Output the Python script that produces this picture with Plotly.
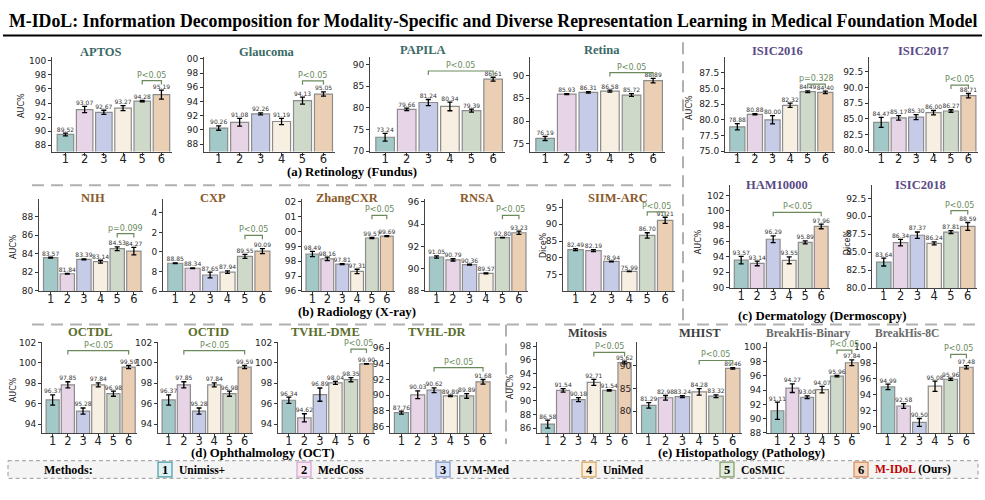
import plotly.graph_objects as go

W, H = 985, 500
def X(px): return px / W
def Y(py): return 1 - py / H

CATS = [1, 2, 3, 4, 5, 6]
METHODS = ["Unimiss+", "MedCoss", "LVM-Med", "UniMed", "CoSMIC", "M-IDoL"]

# ---------------- data (values, error half-widths) ----------------
APTOS_V = [89.52, 93.07, 92.67, 93.27, 94.28, 95.19]
APTOS_E = [0.2, 0.45, 0.3, 0.35, 0.1, 0.65]
GLAUCOMA_V = [90.26, 91.08, 92.26, 91.19, 94.13, 95.05]
GLAUCOMA_E = [0.3, 0.55, 0.15, 0.45, 0.5, 0.3]
PAPILA_V = [73.24, 79.66, 81.24, 80.34, 79.39, 86.61]
PAPILA_E = [0.9, 0.3, 0.7, 1.0, 0.35, 0.45]
RETINA_V = [76.19, 85.93, 86.31, 86.58, 85.72, 88.89]
RETINA_E = [0.45, 0.1, 0.15, 0.2, 0.3, 0.5]
ISIC2016_V = [78.88, 80.88, 80.00, 82.32, 84.49, 84.40]
ISIC2016_E = [0.5, 0.1, 0.65, 0.35, 0.15, 0.2]
ISIC2017_V = [84.47, 85.17, 85.30, 86.00, 86.27, 88.71]
ISIC2017_E = [0.8, 0.35, 0.4, 0.35, 0.2, 0.35]
NIH_V = [83.57, 81.84, 83.39, 83.14, 84.53, 84.27]
NIH_E = [0.05, 0.03, 0.05, 0.15, 0.2, 0.4]
CXP_V = [88.85, 88.34, 87.65, 87.94, 89.55, 90.09]
CXP_E = [0.03, 0.03, 0.3, 0.12, 0.2, 0.25]
ZHANG_V = [98.49, 98.16, 97.81, 97.31, 99.57, 99.69]
ZHANG_E = [0.18, 0.12, 0.03, 0.15, 0.04, 0.03]
RNSA_V = [91.05, 90.79, 90.36, 89.57, 92.80, 93.23]
RNSA_E = [0.1, 0.1, 0.05, 0.04, 0.02, 0.15]
SIIM_V = [82.49, 82.19, 78.94, 75.99, 86.70, 91.21]
SIIM_E = [0.3, 0.3, 0.1, 0.05, 0.8, 0.9]
HAM_V = [93.57, 93.14, 96.29, 93.55, 95.89, 97.96]
HAM_E = [0.5, 0.3, 0.45, 0.45, 0.2, 0.3]
ISIC2018_V = [83.64, 86.34, 87.37, 86.24, 87.81, 88.59]
ISIC2018_E = [0.55, 0.45, 0.45, 0.2, 0.2, 0.55]
OCTDL_V = [96.37, 97.85, 95.28, 97.84, 96.98, 99.59]
OCTDL_E = [0.5, 0.3, 0.3, 0.2, 0.25, 0.15]
OCTID_V = [96.37, 97.85, 95.28, 97.84, 96.98, 99.59]
OCTID_E = [0.5, 0.3, 0.3, 0.2, 0.25, 0.15]
DME_V = [96.34, 94.62, 96.89, 98.04, 98.35, 99.90]
DME_E = [0.3, 0.4, 0.65, 0.15, 0.2, 0.03]
DR_V = [87.76, 90.03, 90.62, 89.89, 89.89, 91.68]
DR_E = [0.2, 0.5, 0.3, 0.1, 0.3, 0.3]
MITOSIS_V = [86.58, 91.54, 90.18, 92.71, 91.54, 95.62]
MITOSIS_E = [0.6, 0.25, 0.3, 0.45, 0.1, 0.2]
MHIST_V = [81.29, 82.98, 83.24, 84.28, 83.32, 89.46]
MHIST_E = [0.6, 0.5, 0.2, 0.7, 0.3, 0.15]
BHB_V = [91.11, 94.27, 93.00, 94.07, 95.96, 97.84]
BHB_E = [1.2, 0.6, 0.2, 0.45, 0.1, 0.4]
BH8_V = [94.99, 92.58, 90.50, 95.08, 95.96, 97.48]
BH8_E = [0.35, 0.3, 0.5, 0.65, 0.15, 0.2]

def rng(a, b, step):
    out, v = [], a
    while v <= b + 1e-9:
        out.append(round(v, 2)); v += step
    return out

# ---------------- styles ----------------
BAR_COLORS = ["#a2c8c8", "#e7d4e6", "#c6cbe7", "#f7efe1", "#ced9ca", "#ebcfb5"]
BAR_EDGE = "#8c8c8c"
GRP_COLOR = {"ret": "#3b6a66", "der": "#5a4a86", "rad": "#8a5a2a",
             "oct": "#5b6e2c", "his": "#3d3d3d", "bh": "#6a6a6a"}
PCOL = "#6b8a5c"
SERIF = "Liberation Serif"
SANS = "DejaVu Sans"

panels = [
    dict(n="APTOS", v=APTOS_V, e=APTOS_E, g="ret", b=(52, 172, 53, 149.5), c=((100, 57), (88, 143)),
         t=rng(88, 100, 2), br=(5, 6, 97.2, "P<0.05"), tx=100, ty=48, yl=("AUC%", 22, 103)),
    dict(n="Glaucoma", v=GLAUCOMA_V, e=GLAUCOMA_E, g="ret", b=(204, 335, 53, 149.5), c=((100, 55), (88, 142)),
         t=rng(88, 100, 2), tt=["88", "90", "92", "94", "96", "98", "00"], br=(5, 6, 96.9, "P<0.05"), tx=267, ty=48),
    dict(n="PAPILA", v=PAPILA_V, e=PAPILA_E, g="ret", b=(370, 505, 53, 149.5), c=((90, 60.7), (70, 149.3)),
         t=rng(70, 90, 5), br=(3, 6, 88.5, "P<0.05"), tx=423, ty=46),
    dict(n="Retina", v=RETINA_V, e=RETINA_E, g="ret", b=(530, 665, 53, 149.5), c=((90, 72), (75, 141.7)),
         t=rng(75, 90, 5), br=(4, 6, 90.65, "P<0.05"), tx=602, ty=46),
    dict(n="ISIC2016", v=ISIC2016_V, e=ISIC2016_E, g="der", b=(725, 835, 53, 149.5), c=((87.5, 69.3), (75, 149)),
         t=rng(75, 87.5, 2.5), f1=True, br=(5, 6, 85.7, "p=0.328"), tx=777, ty=47, yl=("AUC%", 690, 105)),
    dict(n="ISIC2017", v=ISIC2017_V, e=ISIC2017_E, g="der", b=(869, 978, 53, 149.5), c=((92.5, 68.3), (80, 148.3)),
         t=rng(80, 92.5, 2.5), f1=True, br=(5, 6, 90.4, "P<0.05"), tx=923, ty=47),
    dict(n="NIH", v=NIH_V, e=NIH_E, g="rad", b=(39, 143, 198, 292), c=((88, 215.7), (80, 291.7)),
         t=rng(80, 88, 2), br=(5, 6, 86.15, "p=0.099"), tx=93, ty=197, yl=("AUC%", 13, 247)),
    dict(n="CXP", v=CXP_V, e=CXP_E, g="rad", b=(163, 272, 198, 292), c=((94, 212), (86, 292)),
         t=rng(86, 94, 2), tt=["6", "8", "0", "2", "4"], br=(5, 6, 91.7, "P<0.05"), tx=213, ty=197),
    dict(n="ZhangCXR", v=ZHANG_V, e=ZHANG_E, g="rad", b=(302, 395, 198, 292), c=((102, 201), (96, 291.7)),
         t=rng(96, 102, 1), tt=["96", "97", "98", "99", "00", "01", "02"], br=(5, 6, 101.1, "P<0.05"), tx=347, ty=197),
    dict(n="RNSA", v=RNSA_V, e=RNSA_E, g="rad", b=(425, 528, 198, 292), c=((96, 201), (88, 291.7)),
         t=rng(88, 96, 2), br=(5, 6, 94.8, "P<0.05"), tx=477, ty=197),
    dict(n="SIIM-ARC", v=SIIM_V, e=SIIM_E, g="rad", b=(563, 675, 198, 292), c=((95, 206.7), (70, 292.3)),
         t=rng(70, 95, 5), br=(5, 6, 93.7, "P<0.05"), tx=618, ty=197, yl=("Dice%", 543, 245)),
    dict(n="HAM10000", v=HAM_V, e=HAM_E, g="der", b=(730, 830, 184, 289), c=((102, 194.3), (90, 288.3)),
         t=rng(90, 102, 2), br=(3, 6, 99.8, "P<0.05"), tx=777, ty=184, yl=("AUC%", 698, 242)),
    dict(n="ISIC2018", v=ISIC2018_V, e=ISIC2018_E, g="der", b=(872, 977, 184, 289), c=((92.5, 197.3), (80, 289)),
         t=rng(80, 92.5, 2.5), f1=True, br=(5, 6, 90.8, "P<0.05"), tx=920, ty=184, yl=("Dice%", 847, 242)),
    dict(n="OCTDL", v=OCTDL_V, e=OCTDL_E, g="oct", b=(42, 137, 344, 437), c=((102, 344.3), (94, 427.7)),
         t=rng(94, 102, 2), br=(2, 6, 101.2, "P<0.05"), tx=90, ty=334, yl=("AUC%", 13, 393)),
    dict(n="OCTID", v=OCTID_V, e=OCTID_E, g="oct", b=(158, 253, 344, 437), c=((102, 344.3), (94, 427.7)),
         t=rng(94, 102, 2), br=(2, 6, 101.2, "P<0.05"), tx=208, ty=334),
    dict(n="TVHL-DME", v=DME_V, e=DME_E, g="oct", b=(278, 375, 344, 437), c=((102, 344.3), (94, 427.7)),
         t=rng(94, 102, 2), br=(5, 6, 101.35, "P<0.05"), tx=325, ty=334),
    dict(n="TVHL-DR", v=DR_V, e=DR_E, g="oct", b=(390, 492, 344, 437), c=((96, 350), (86, 430)),
         t=rng(86, 96, 2), br=(3, 6, 93.5, "P<0.05"), tx=437, ty=334),
    dict(n="Mitosis", v=MITOSIS_V, e=MITOSIS_E, g="his", b=(537, 633, 344, 437), c=((98, 348.3), (86, 431.7)),
         t=rng(86, 98, 2), br=(4, 6, 97.1, "P<0.05"), tx=587, ty=335, yl=("AUC%", 510, 390)),
    dict(n="MHIST", v=MHIST_V, e=MHIST_E, g="his", b=(637, 742, 344, 437), c=((90, 368.3), (75, 437.7)),
         t=rng(75, 90, 5), br=(4, 6, 91.2, "P<0.05"), tx=700, ty=335),
    dict(n="BreakHis-Binary", v=BHB_V, e=BHB_E, g="bh", b=(767, 860, 344, 437), c=((100, 349.3), (88, 436.7)),
         t=rng(88, 100, 2), br=(5, 6, 99.6, "P<0.05"), tx=808, ty=335, fs=11.5),
    dict(n="BreakHis-8C", v=BH8_V, e=BH8_E, g="bh", b=(877, 975, 344, 437), c=((100, 349.3), (90, 430)),
         t=rng(90, 100, 2), br=(5, 6, 99.1, "P<0.05"), tx=907, ty=335, fs=11.5),
]

fig = go.Figure()
layout = dict(width=W, height=H, margin=dict(l=0, r=0, t=0, b=0),
              paper_bgcolor="white", plot_bgcolor="white", showlegend=False)
shapes, annos = [], []

def pa(text, px, py, size, family=SERIF, color="black", xa="center", angle=0):
    annos.append(dict(x=X(px), y=Y(py), xref="paper", yref="paper", text=text, showarrow=False,
                      xanchor=xa, yanchor="middle", textangle=angle,
                      font=dict(family=family, size=size, color=color)))

for i, p in enumerate(panels, start=1):
    xs = "" if i == 1 else str(i)
    l, r, t, b = p["b"]
    (v1, p1), (v2, p2) = p["c"]
    def val(px, v1=v1, p1=p1, v2=v2, p2=p2):
        return v1 + (px - p1) * (v2 - v1) / (p2 - p1)
    ylo, yhi = val(b), val(t)
    upp = abs((v1 - v2) / (p1 - p2))
    tv = p["t"]
    tt = p.get("tt") or ([f"{x:.1f}" for x in tv] if p.get("f1") else [f"{x:g}" for x in tv])
    layout["xaxis" + xs] = dict(domain=[X(l), X(r)], anchor="y" + xs, range=[0.3, 6.55],
                                tickvals=CATS, ticktext=[str(c) for c in CATS],
                                tickfont=dict(family=SANS, size=11.5, color="#222"),
                                ticks="outside", ticklen=3, tickcolor="#333", ticklabelstandoff=-6,
                                showline=True, linecolor="#444", linewidth=1,
                                showgrid=False, zeroline=False, fixedrange=True)
    layout["yaxis" + xs] = dict(domain=[Y(b), Y(t)], anchor="x" + xs, range=[ylo, yhi],
                                tickvals=tv, ticktext=tt,
                                tickfont=dict(family=SANS, size=9, color="#222"),
                                ticks="outside", ticklen=3, tickcolor="#333",
                                showline=True, linecolor="#444", linewidth=1,
                                showgrid=False, zeroline=False, fixedrange=True)
    fig.add_trace(go.Bar(x=CATS, y=p["v"], xaxis="x" + xs, yaxis="y" + xs, width=0.86,
                         marker=dict(color=BAR_COLORS, line=dict(color=BAR_EDGE, width=1.2)),
                         error_y=dict(type="data", array=p["e"], color="black",
                                      thickness=1.3, width=2.5)))
    fig.add_trace(go.Scatter(x=CATS, y=[a + e for a, e in zip(p["v"], p["e"])],
                             xaxis="x" + xs, yaxis="y" + xs, mode="text",
                             text=[f"{a:.2f}" for a in p["v"]], textposition="top center",
                             textfont=dict(family=SANS, size=6, color="#333"),
                             cliponaxis=False, hoverinfo="skip"))
    # significance bracket
    i1, i2, yb, lab = p["br"]
    leg = 4 * upp
    shapes.append(dict(type="path", xref="x" + xs, yref="y" + xs,
                       path=f"M {i1},{yb - leg} L {i1},{yb} L {i2},{yb} L {i2},{yb - leg}",
                       line=dict(color=PCOL, width=1.2)))
    annos.append(dict(x=(i1 + i2) / 2, y=yb, xref="x" + xs, yref="y" + xs, text=lab,
                      showarrow=False, xanchor="center", yanchor="bottom", yshift=-1,
                      font=dict(family=SANS, size=8, color=PCOL)))
    pa(f"<b>{p['n']}</b>", p["tx"], p["ty"], p.get("fs", 12.5), color=GRP_COLOR[p["g"]])
    if "yl" in p:
        txt, lx, ly = p["yl"]
        pa(txt, lx, ly, 8, family=SANS, color="#222", angle=-90)

# main title & rule
pa("<b>M-IDoL: Information Decomposition for Modality-Specific and Diverse Representation Learning in Medical Foundation Model</b>",
   493, 16, 17.8)
shapes.append(dict(type="line", xref="paper", yref="paper", x0=X(3), x1=X(982), y0=Y(31), y1=Y(31),
                   line=dict(color="black", width=2)))

# section labels
for txt, cx, cy in [("(a) Retinology (Fundus)", 352, 170), ("(b) Radiology (X-ray)", 357, 313),
                    ("(c) Dermatology (Dermoscopy)", 822, 317), ("(d) Ophthalmology (OCT)", 263, 457),
                    ("(e) Histopathology (Pathology)", 741, 457)]:
    pa(f"<b>{txt}</b>", cx, cy, 12.8)

# dashed separators
DASH = dict(color="#b0b0b0", width=2, dash="12px,7px")
for x0, y0, x1, y1 in [(683, 38, 683, 326), (32, 184, 678, 184), (32, 326, 982, 326), (506, 326, 506, 448)]:
    shapes.append(dict(type="line", xref="paper", yref="paper", x0=X(x0), x1=X(x1), y0=Y(y0), y1=Y(y1),
                       line=DASH))

# methods legend
shapes.append(dict(type="rect", xref="paper", yref="paper", x0=X(8), x1=X(978), y0=Y(465), y1=Y(483),
                   fillcolor="#f4f4f4", line=dict(color="#9a9a9a", width=1, dash="4px,3px"), layer="below"))
pa("<b>Methods:</b>", 68, 474, 12)
LEG_FILL = ["#dff1f3", "#f8e6f3", "#d9e2f6", "#fbeedd", "#e3eddc", "#f6d9c4"]
LEG_EDGE = ["#4a9aa0", "#d4a6cf", "#7f95c8", "#d9a45a", "#7f9a6a", "#d88a5a"]
LEG_X = [158, 297, 436, 582, 720, 854]
for k in range(6):
    lx = LEG_X[k]
    shapes.append(dict(type="rect", xref="paper", yref="paper", x0=X(lx), x1=X(lx + 14), y0=Y(466.5), y1=Y(481.5),
                       fillcolor=LEG_FILL[k], line=dict(color=LEG_EDGE[k], width=1.2)))
    pa(f"<b>{CATS[k]}</b>", lx + 7, 474, 12.5)
    name = METHODS[k]
    if k == 5:
        name = "<span style='color:#c00000'>M-IDoL</span> (Ours)"
    pa(f"<b>{name}</b>", lx + 19, 474, 11.5, xa="left")

layout["shapes"] = shapes
layout["annotations"] = annos
layout["bargap"] = 0.1
fig.update_layout(**layout)
fig.write_html("out.html")
